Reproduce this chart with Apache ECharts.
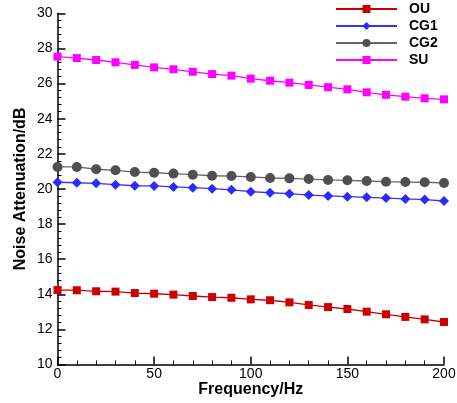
<!DOCTYPE html>
<html><head><meta charset="utf-8">
<script src="https://cdn.jsdelivr.net/npm/echarts@6/dist/echarts.min.js"></script>
<style>html,body{margin:0;padding:0;background:#fff}#c{width:457px;height:403px}</style>
</head><body><div id="c"></div>
<script>
const freq = [0,10,20,30,40,50,60,70,80,90,100,110,120,130,140,150,160,170,180,190,200];
const OU  = [14.24,14.23,14.17,14.15,14.07,14.03,13.98,13.90,13.84,13.80,13.71,13.66,13.54,13.39,13.27,13.16,13.01,12.86,12.71,12.57,12.42];
const CG1 = [20.38,20.35,20.32,20.24,20.18,20.17,20.11,20.07,20.01,19.95,19.84,19.78,19.73,19.65,19.60,19.56,19.52,19.48,19.43,19.39,19.31];
const CG2 = [21.25,21.25,21.12,21.06,20.96,20.92,20.87,20.81,20.75,20.73,20.68,20.62,20.60,20.56,20.51,20.49,20.45,20.41,20.39,20.38,20.34];
const SU  = [27.53,27.45,27.34,27.21,27.06,26.92,26.81,26.67,26.54,26.45,26.28,26.16,26.05,25.92,25.79,25.67,25.50,25.36,25.25,25.16,25.10];
const names = ['OU','CG1','CG2','SU'];
const values = [OU, CG1, CG2, SU];
const lineColors = ['#cc0000','#3333ff','#666666','#ff00ff'];
const markColors = ['#cc0000','#2b2bff','#505050','#ff00ff'];
const symbols = ['rect','diamond','circle','rect'];
const sizes = [8,10,10,8];

const chart = echarts.init(document.getElementById('c'));
const font = 'Liberation Sans, Arial, sans-serif';
chart.setOption({
  animation:false,
  backgroundColor:'#fff',
  grid:{left:57.5,right:13,top:13.3,bottom:38.5,containLabel:false,outerBoundsMode:'none'},
  legend:{
    orient:'vertical', left:335, top:2, itemWidth:61, itemHeight:10, itemGap:3,
    padding:0,
    textStyle:{fontFamily:font,fontWeight:'bold',fontSize:14,lineHeight:14,color:'#000',padding:[0,0,0,7]},
    data:names
  },
  xAxis:{
    type:'value', min:0, max:200, interval:50,
    name:'Frequency/Hz', nameLocation:'middle', nameGap:17, nameMoveOverlap:false,
    nameTextStyle:{fontFamily:font,fontWeight:'bold',fontSize:16,color:'#000'},
    axisLine:{lineStyle:{color:'#000',width:1.5}},
    axisTick:{inside:true,length:8,lineStyle:{color:'#000',width:1.5}},
    minorTick:{show:true,splitNumber:5,length:4,lineStyle:{color:'#000',width:1}},
    axisLabel:{fontFamily:font,fontSize:14,color:'#000',margin:3},
    splitLine:{show:false}
  },
  yAxis:{
    type:'value', min:10, max:30, interval:2,
    name:'Noise Attenuation/dB', nameLocation:'middle', nameGap:29, nameMoveOverlap:false,
    nameTextStyle:{fontFamily:font,fontWeight:'bold',fontSize:16,color:'#000'},
    axisLine:{show:true,lineStyle:{color:'#000',width:1.5}},
    axisTick:{show:true,inside:true,length:8,lineStyle:{color:'#000',width:1.5}},
    minorTick:{show:true,splitNumber:5,length:4,lineStyle:{color:'#000',width:1}},
    axisLabel:{fontFamily:font,fontSize:14,color:'#000',margin:5},
    splitLine:{show:false}
  },
  series: names.map((n,i)=>({
    name:n, type:'line',
    data: freq.map((f,j)=>[f, values[i][j]]),
    symbol:symbols[i], symbolSize:sizes[i], showSymbol:true,
    lineStyle:{color:lineColors[i],width:1.3},
    itemStyle:{color:markColors[i]},
    emphasis:{disabled:true}
  }))
});
</script></body></html>
